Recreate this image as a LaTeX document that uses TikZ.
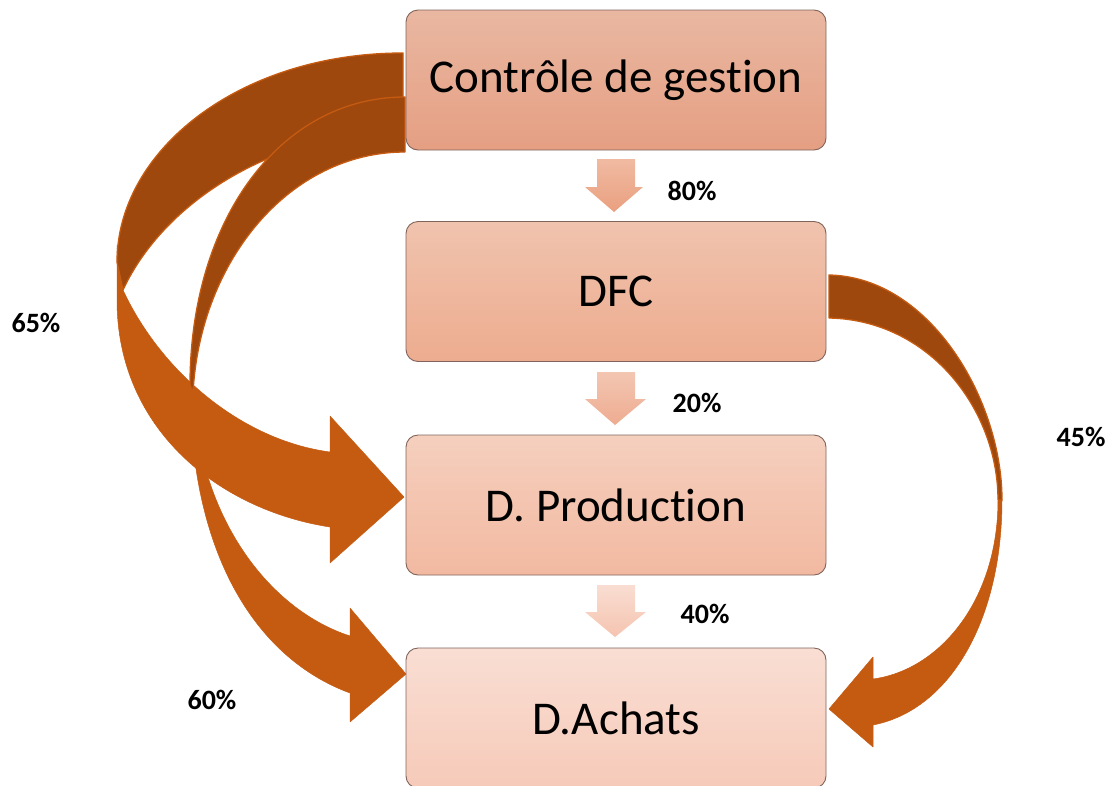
\documentclass[tikz,border=0pt]{standalone}
\usepackage{fontspec}
\setmainfont{Carlito}[Ligatures={NoCommon,NoRare,NoContextual}]
\definecolor{banddark}{RGB}{158,72,14}
\definecolor{bandlight}{RGB}{197,90,17}
\definecolor{boxline}{RGB}{128,100,92}
\begin{document}
\begin{tikzpicture}[x=1pt,y=-1pt,
  unitbox/.style={draw=boxline, line width=0.9pt, rounded corners=12pt,
    minimum width=420pt, minimum height=140pt, inner sep=0pt,
    font=\fontsize{47}{56}\selectfont},
  pct/.style={font=\fontsize{28}{32}\selectfont\bfseries, inner sep=0pt},
  back/.style={fill=banddark, draw=bandlight, line width=1.3pt, line join=round},
  front/.style={fill=bandlight, draw=bandlight, line width=0.5pt, line join=round}]
\useasboundingbox (0,0) rectangle (1109,785);
\clip (0,0) rectangle (1109,785);

% curved arrow: Controle de gestion -> D. Production (65%)
\path[front] (117,245) -- (123,290)
  .. controls (160,370) and (240,440) .. (330,452)
  -- (330,416) -- (404,497) -- (330,563) -- (330,527)
  .. controls (220,510) and (117,430) .. (117,300) -- cycle;
\path[back] (403,53) .. controls (240,53) and (117,150) .. (117,262)
  -- (123,290)
  .. controls (160,210) and (260,135) .. (403,129) -- cycle;

% curved arrow: Controle de gestion -> D.Achats (60%)
\path[front] (190,385) -- (193,393)
  .. controls (200,520) and (270,610) .. (350,636)
  -- (350,608) -- (406,674) -- (350,722) -- (350,693)
  .. controls (260,660) and (190,560) .. (190,385) -- cycle;
\path[back] (405,97) .. controls (280,97) and (190,220) .. (190,385)
  -- (193,393)
  .. controls (200,260) and (290,152) .. (405,152) -- cycle;

% curved arrow: DFC -> D.Achats (45%)
\path[front] (1002,500) -- (998,500)
  .. controls (998,600) and (940,670) .. (873,679)
  -- (873,657) -- (829,709) -- (873,747) -- (873,725)
  .. controls (950,710) and (1002,620) .. (1002,500) -- cycle;
\path[back] (829,275) .. controls (930,277) and (1002,400) .. (1002,500)
  -- (998,500)
  .. controls (998,410) and (930,320) .. (829,318) -- cycle;

% boxes (kern keeps t and i as separate glyphs)
\node[unitbox, top color={rgb,255:red,233;green,183;blue,161}, bottom color={rgb,255:red,229;green,159;blue,131}]
  (cg) at (616,80) {Contrôle de gest\kern0pt ion};
\node[unitbox, top color={rgb,255:red,240;green,195;blue,174}, bottom color={rgb,255:red,237;green,172;blue,143}]
  (dfc) at (616,291.5) {DFC};
\node[unitbox, top color={rgb,255:red,245;green,207;blue,190}, bottom color={rgb,255:red,242;green,185;blue,161}]
  (prod) at (616,505) {D. Product\kern0pt ion};
\node[unitbox, top color={rgb,255:red,249;green,222;blue,211}, bottom color={rgb,255:red,246;green,202;blue,185}]
  (ach) at (616,718) {D.Achats};

% short down arrows between boxes
\shade[top color={rgb,255:red,240;green,186;blue,162}, bottom color={rgb,255:red,234;green,160;blue,128}]
  (597,159) -- (635,159) -- (635,187) -- (643,187) -- (614,212) -- (585,187) -- (597,187) -- cycle;
\shade[top color={rgb,255:red,243;green,198;blue,178}, bottom color={rgb,255:red,238;green,172;blue,144}]
  (597,372) -- (635,372) -- (635,399) -- (646,399) -- (615,425) -- (585,399) -- (597,399) -- cycle;
\shade[top color={rgb,255:red,249;green,221;blue,210}, bottom color={rgb,255:red,245;green,196;blue,176}]
  (597,585) -- (635,585) -- (635,612) -- (646,612) -- (615,637) -- (585,612) -- (597,612) -- cycle;

% percentages
\node[pct] (p80) at (692,191) {80\%};
\node[pct] (p20) at (697,403) {20\%};
\node[pct] (p40) at (705,614) {40\%};
\node[pct] (p65) at (36,323) {65\%};
\node[pct] (p60) at (212,700) {60\%};
\node[pct] (p45) at (1081,437) {45\%};
\end{tikzpicture}
\end{document}
